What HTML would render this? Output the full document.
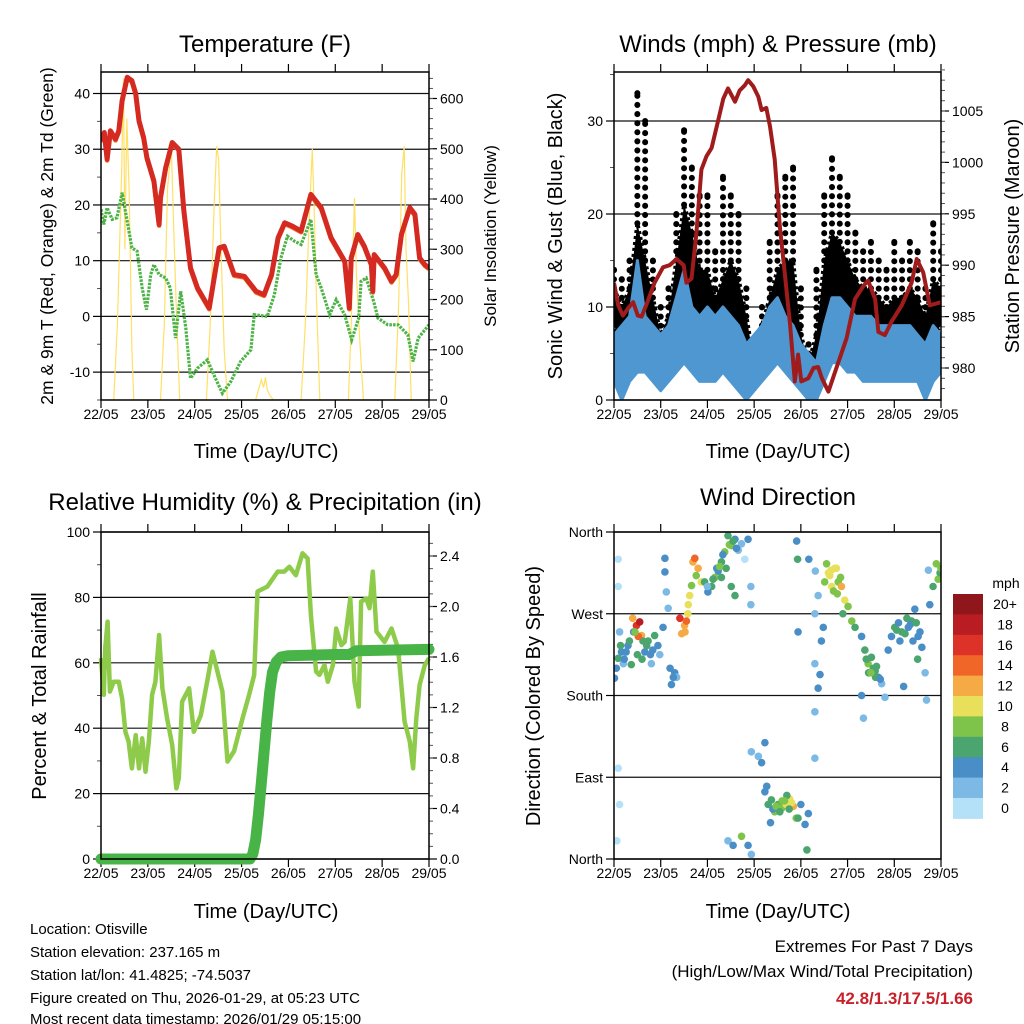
<!DOCTYPE html>
<html><head><meta charset="utf-8"><style>
html,body{margin:0;padding:0;background:#fff}
svg{display:block;font-family:"Liberation Sans",sans-serif}
</style></head><body>
<svg id="c" width="1024" height="1024" viewBox="0 0 1024 1024" xmlns="http://www.w3.org/2000/svg">
<rect width="1024" height="1024" fill="#fff"/>
<g id="p1"></g>
<g id="p2"></g>
<g id="p3"></g>
<g id="p4"></g>
<g id="texts">
<text x="265" y="52" font-size="24" text-anchor="middle">Temperature (F)</text>
<text x="778" y="52" font-size="24" text-anchor="middle">Winds (mph) &amp; Pressure (mb)</text>
<text x="265" y="510" font-size="24" text-anchor="middle">Relative Humidity (%) &amp; Precipitation (in)</text>
<text x="778" y="505" font-size="24" text-anchor="middle">Wind Direction</text>
<text x="266" y="458" font-size="20" text-anchor="middle">Time (Day/UTC)</text>
<text x="778" y="458" font-size="20" text-anchor="middle">Time (Day/UTC)</text>
<text x="266" y="918" font-size="20" text-anchor="middle">Time (Day/UTC)</text>
<text x="778" y="918" font-size="20" text-anchor="middle">Time (Day/UTC)</text>
<text transform="translate(53,236) rotate(-90)" font-size="17.5" text-anchor="middle">2m &amp; 9m T (Red, Orange) &amp; 2m Td (Green)</text>
<text transform="translate(496,236) rotate(-90)" font-size="17" text-anchor="middle">Solar Insolation (Yellow)</text>
<text transform="translate(562,236) rotate(-90)" font-size="20" text-anchor="middle">Sonic Wind &amp; Gust (Blue, Black)</text>
<text transform="translate(1019,236) rotate(-90)" font-size="20" text-anchor="middle">Station Pressure (Maroon)</text>
<text transform="translate(46,696) rotate(-90)" font-size="20" text-anchor="middle">Percent &amp; Total Rainfall</text>
<text transform="translate(540,696) rotate(-90)" font-size="20" text-anchor="middle">Direction (Colored By Speed)</text>
<g font-size="15">
<text x="30" y="934">Location: Otisville</text>
<text x="30" y="957">Station elevation: 237.165 m</text>
<text x="30" y="980">Station lat/lon: 41.4825; -74.5037</text>
<text x="30" y="1003">Figure created on Thu, 2026-01-29, at 05:23 UTC</text>
<text x="30" y="1025" dy="-1">Most recent data timestamp: 2026/01/29 05:15:00</text>
</g>
<text x="973" y="952" font-size="17" text-anchor="end">Extremes For Past 7 Days</text>
<text x="973" y="977" font-size="17" text-anchor="end">(High/Low/Max Wind/Total Precipitation)</text>
<text x="973" y="1004" font-size="17" font-weight="bold" fill="#c8202a" text-anchor="end">42.8/1.3/17.5/1.66</text>
</g>
</svg>
<script>
// ---------- DATA ----------
const dayLabels=["22/05","23/05","24/05","25/05","26/05","27/05","28/05","29/05"];
const tempDays=[0,0.07,0.13,0.2,0.31,0.38,0.45,0.56,0.66,0.74,0.81,0.91,0.98,1.13,1.24,1.27,1.38,1.52,1.66,1.77,1.91,2.06,2.31,2.52,2.63,2.84,3.06,3.31,3.48,3.64,3.78,3.92,4.08,4.27,4.48,4.70,4.91,5.2,5.3,5.34,5.48,5.62,5.77,5.8,5.83,6.05,6.2,6.3,6.41,6.59,6.7,6.8,6.91,7.0];
const tempRed=[31.5,33,28.2,33.3,31.8,33.3,38.7,42.9,42.3,40,35.1,32.1,28.5,24.3,16.5,21.3,26.7,31.2,30,18.9,8.7,5.1,1.5,12.3,12.6,7.5,7.2,4.5,3.9,7.5,14.1,16.8,16.2,15.3,21.9,19.5,14.1,9.9,1.5,10.5,14.7,12.6,9.3,4.5,11.1,8.7,6.3,7.5,14.7,19.5,18.3,10.5,9.3,8.7];
const tdDays=[0,0.06,0.13,0.24,0.34,0.45,0.56,0.66,0.77,0.88,0.97,1.06,1.13,1.24,1.38,1.48,1.59,1.70,1.81,1.91,2.06,2.27,2.41,2.59,2.77,2.98,3.20,3.27,3.55,3.70,3.84,3.98,4.13,4.27,4.48,4.59,4.70,4.88,5.02,5.20,5.35,5.50,5.55,5.66,5.82,5.91,6.12,6.34,6.55,6.66,6.77,7.0];
const tdGreen=[19.2,16.5,19.5,17.4,17.7,22.2,17.1,12.3,11.7,5.1,1.2,7.5,9.3,7.5,6.9,5.1,-3.9,4.5,-2.1,-11.1,-9.3,-7.8,-10.5,-13.8,-11.7,-8.1,-6.0,0.3,0,3.9,10.5,14.4,13.5,12.9,17.4,7.5,5.1,0.3,3.0,0.3,-4.2,-0.3,6.3,6.9,2.7,-0.3,-1.5,-1.5,-3.3,-8.1,-3.9,-1.5];
const solarDays=[0,0.27,0.35,0.44,0.48,0.51,0.55,0.6,0.66,0.7,1.27,1.35,1.42,1.5,1.55,1.6,1.68,2.25,2.33,2.42,2.47,2.51,2.56,2.63,2.7,3.3,3.42,3.47,3.51,3.55,3.6,3.68,4.27,4.36,4.44,4.51,4.55,4.6,4.67,5.28,5.34,5.38,5.41,5.45,5.52,5.6,6.27,6.35,6.42,6.47,6.51,6.56,6.62,7.0];
const solarVals=[0,0,150,450,640,300,560,420,100,0,0,150,420,505,350,200,0,0,150,400,505,480,300,100,0,0,40,25,45,20,10,0,0,150,350,500,380,200,0,0,150,300,402,250,120,0,0,180,450,505,300,200,0,0];

const presDays=[0,0.09,0.19,0.3,0.41,0.51,0.59,0.69,0.87,1.05,1.19,1.34,1.49,1.55,1.66,1.76,1.87,1.98,2.09,2.23,2.34,2.44,2.59,2.69,2.8,2.87,2.98,3.09,3.16,3.26,3.34,3.44,3.55,3.66,3.77,3.87,3.94,4.01,4.16,4.27,4.37,4.45,4.59,4.76,4.98,5.16,5.34,5.44,5.59,5.66,5.8,5.94,6.16,6.37,6.48,6.62,6.76,7.0];
const presVals=[988.3,986.1,985.1,985.8,986.4,985.1,985.0,986.1,988.3,989.8,990.0,990.6,990.0,988.3,988.7,992.9,999.3,1000.6,1001.4,1004.1,1006.2,1007.2,1005.9,1007.0,1007.5,1008.0,1007.4,1006.4,1005.1,1005.3,1003.5,1000.3,993.8,989.0,984.2,978.7,981.3,978.7,979.0,980.0,980.1,979.0,977.7,980.0,982.9,986.7,988.0,988.5,986.7,983.5,983.2,984.5,986.1,988.3,990.6,989.3,986.1,986.4];
// wind per 4-hour step (day = index/6)
const windHi=[7,8,9,15,9,8, 7,8,11,14,10,9, 10,9,10,9,8,6, 7,8,10,11,9,8, 6,5,4,8,11,11, 10,9,9,9,8,8, 8,8,8,7,6,8, 7];
const windLo=[2,0,2,3,3,2, 1,2,3,4,3,2, 2,2,3,2,1,0, 1,2,3,4,3,2, 1,0,0,2,4,4, 3,3,2,2,2,2, 2,2,2,2,0,2, 3];
const gustDense=[12,10,12,19,15,11, 7,9,15,21,18,14, 14,11,13,15,13,9, 4,8,11,14,15,15, 7,4,7,15,18,17, 15,13,12,12,11,10, 11,11,12,11,9,13, 12];
const gustHi=[14,13,15,33,30,15, 10,12,20,29,25,22, 22,16,24,22,20,12, 5,10,17,22,24,25, 12,6,14,22,26,24, 22,18,16,17,15,14, 17,15,17,16,12,19, 16];
const gustLo=[8,6,7,11,9,6, 3,5,7,11,9,7, 8,6,7,8,6,3, 1,4,6,8,9,8, 3,1,2,6,11,10, 9,8,7,7,7,7, 7,7,7,6,4,7, 8];

const rhDays=[0,0.06,0.09,0.14,0.19,0.27,0.38,0.45,0.52,0.59,0.66,0.74,0.81,0.88,0.95,1.02,1.09,1.16,1.24,1.31,1.41,1.52,1.61,1.66,1.73,1.88,1.98,2.13,2.28,2.38,2.59,2.70,2.84,3.02,3.16,3.27,3.34,3.55,3.77,3.91,4.02,4.16,4.30,4.41,4.48,4.59,4.66,4.77,4.84,4.95,5.02,5.13,5.20,5.32,5.41,5.50,5.55,5.66,5.73,5.80,5.88,6.05,6.20,6.34,6.48,6.59,6.66,6.73,6.80,6.91,7.0];
const rhVals=[61.4,50.2,64.4,72.6,51.2,54.2,54.2,49.1,38.9,35.9,27.7,37.9,27.7,36.9,26.7,35.9,50.2,54.2,68.5,52.2,43.0,34.9,21.6,24.7,48.1,52.2,38.9,43.9,55.3,63.4,51.2,29.8,33.0,43.0,50.2,56.3,81.8,83.3,87.9,87.9,89.4,86.8,93.5,91.9,74.6,57.3,56.3,59.3,54.2,59.3,70.5,65.4,66.4,79.7,54.2,46.6,78.7,79.7,76.7,87.9,69.5,66.4,70.5,64.4,42.0,35.9,27.7,43.0,53.2,59.3,61.4];
const precipDays=[0,3.18,3.24,3.30,3.36,3.42,3.48,3.54,3.60,3.66,3.74,3.84,4.0,5.0,5.3,5.45,7.0];
const precipVals=[0,0,0.04,0.15,0.35,0.6,0.85,1.1,1.32,1.48,1.56,1.6,1.61,1.62,1.62,1.65,1.66];

// wind direction scatter: day, degrees, speed (mph)
const dirDays=[0.01,0.09,0.16,0.26,0.37,0.48,0.55,0.59,0.66,0.73,0.87,0.94,1.09,1.09,1.12,1.16,1.23,1.30,1.34,0.09,0.09,0.12,0.09,0.06,0.12,0.2,0.3,0.42,0.5,0.6,0.78,0.8,0.62,
0.05,0.14,0.22,0.33,0.44,0.52,0.7,0.83,0.98,1.05,1.2,1.27,0.4,0.45,
1.41,1.51,1.59,1.66,1.69,1.73,1.80,1.87,1.52,1.58,1.45,1.55,1.62,1.76,
1.94,2.01,2.09,2.16,2.23,2.30,2.37,2.44,2.51,2.59,2.66,2.73,2.87,2.51,2.59,2.3,2.2,2.4,2.0,2.8,2.12,2.26,2.33,2.47,2.55,2.62,
2.94,2.87,2.94,3.09,3.16,3.23,3.23,3.3,3.44,3.51,3.59,3.69,3.76,3.84,3.9,3.94,4.0,4.09,4.13,4.16,2.44,2.55,2.73,3.91,3.93,4.17,3.4,3.35,3.6,3.7,3.8,3.27,3.37,3.47,3.55,3.65,3.75,
4.3,4.3,4.37,4.41,4.44,4.48,4.3,4.3,4.37,4.31,3.94,2.93,2.93,
4.51,4.59,4.66,4.73,4.8,4.87,4.94,5.01,5.09,5.16,4.62,4.7,4.85,4.76,4.55,4.65,4.78,4.9,
5.3,5.37,5.44,5.51,5.59,5.66,5.73,5.8,5.3,5.34,5.87,5.94,6.01,6.09,6.16,6.23,6.3,6.37,6.44,6.51,6.59,6.66,6.69,6.73,6.76,6.83,6.94,6.98,7.0,5.45,5.55,5.6,6.2,6.4,6.5,5.4,5.5,5.62,5.7,6.05,6.12,6.27,6.34,6.47,6.55,6.9];
const dirDegs=[199,221,228,228,214,257,261,246,228,240,246,235,331,316,294,276,192,205,200,330,300,250,100,20,60,215,235,250,225,220,225,215,240,
210,235,220,240,250,245,235,230,225,255,210,200,265,250,
265,257,280,301,327,331,320,305,250,270,248,262,290,312,
305,294,300,310,317,327,338,356,345,352,340,347,352,300,290,310,320,320,300,330,308,322,335,346,350,342,
5,15,118,113,106,128,74,60,52,60,56,60,66,58,45,45,60,38,10,50,20,15,25,350,330,330,55,40,64,70,62,80,65,58,52,64,55,
111,162,188,203,240,255,215,270,290,317,250,280,300,
305,315,300,320,305,300,285,278,262,255,312,295,310,320,325,318,292,270,
245,230,215,222,207,200,193,178,180,155,230,245,255,260,250,248,255,262,275,245,233,205,175,318,280,300,308,315,320,205,210,200,190,240,220,220,205,212,198,252,240,265,258,260,250,325];
const dirSpeeds=[4,6,5,4,6,16,18,12,4,6,6,4,4,4,2,2,4,4,2,1,1,2,1,1,1,2,4,4,6,6,4,2,6,
4,6,4,6,4,14,6,4,3,4,4,4,12,8,
16,12,10,8,12,14,12,10,13,11,12,14,10,8,
6,4,6,8,4,6,8,6,8,4,2,2,4,6,6,7,5,6,2,1,6,8,4,8,6,4,
2,4,2,2,4,4,4,6,8,6,8,10,10,12,8,6,4,4,6,4,2,4,8,4,6,4,4,4,9,7,10,4,6,8,7,9,6,
2,2,4,4,4,4,2,2,2,2,4,2,2,
8,10,10,10,8,12,10,8,8,6,11,9,8,10,9,10,8,6,
4,6,8,6,6,4,2,2,4,2,4,4,6,4,6,6,4,6,4,4,4,2,2,2,4,6,8,6,8,6,6,6,4,4,6,6,8,6,4,6,4,7,4,6,4,8];
const speedBins=["0","2","4","6","8","10","12","14","16","18","20+"];
const speedColors=["#b4e1f7","#7cb9e4","#4a8ec7","#4aa56e","#7ec34a","#e8e05a","#f6aa45","#f06528","#dd3228","#ba1c24","#8f161b"];

// ---------- HELPERS ----------
const NS="http://www.w3.org/2000/svg";
function mk(parent,tag,attrs){const e=document.createElementNS(NS,tag);for(const k in attrs)e.setAttribute(k,attrs[k]);parent.appendChild(e);return e;}
function lin(d0,d1,r0,r1){return v=>r0+(v-d0)*(r1-r0)/(d1-d0);}

function frame(g,x0,x1,y0,y1){
  const xs=lin(0,7,x0,x1);
  dayLabels.forEach((lab,i)=>{
    const x=xs(i);
    const t1=mk(g,'line',{x1:x,x2:x,y1:y1,y2:y1+8,stroke:'#000','stroke-width':1.2});
    
    
    const t2=mk(g,'line',{x1:x,x2:x,y1:y0,y2:y0-8,stroke:'#000','stroke-width':1.2});
    
    
    const tx=mk(g,'text',{x:x,y:y1+19,'font-size':14,'text-anchor':'middle'});
    tx.textContent=lab;
    
    
  });
  return xs;
}
function box(g,x0,x1,y0,y1){
  const r=mk(g,'rect',{x:x0,y:y0,width:x1-x0,height:y1-y0,fill:'none',stroke:'#000','stroke-width':1.5});
  
  
}
function yAxis(g,side,x0,x1,ys,majors,labels,minors,grid){
  const xe=side==='l'?x0:x1, dir=side==='l'?-1:1;
  majors.forEach((v,i)=>{
    const y=ys(v);
    if(grid){const gl=mk(g,'line',{x1:x0,x2:x1,y1:y,y2:y,stroke:'#111','stroke-width':1.2});
      
      }
    const t=mk(g,'line',{x1:xe,x2:xe+dir*8,y1:y,y2:y,stroke:'#000','stroke-width':1.2});
    
    
    const tx=mk(g,'text',{x:xe+dir*11,y:y+5,'font-size':14,'text-anchor':side==='l'?'end':'start'});
    tx.textContent=labels[i];
    
    
  });
  minors.forEach(v=>{const y=ys(v);
    const t=mk(g,'line',{x1:xe,x2:xe+dir*4,y1:y,y2:y,stroke:'#555','stroke-width':1});
    
    });
}
function path(xs,ys,X,Y){return X.map((v,i)=>(i?'L':'M')+xs(v).toFixed(1)+','+ys(Y[i]).toFixed(1)).join('');}
function clip(id,x0,x1,y0,y1){const svg=document.getElementById('c');let d=svg.querySelector('defs')||mk(svg,'defs',{});
  const c=mk(d,'clipPath',{id:id});mk(c,'rect',{x:x0,y:y0,width:x1-x0,height:y1-y0});}
function range(a,b,s){const r=[];for(let v=a;v<=b+1e-9;v+=s)r.push(+v.toFixed(3));return r;}

// ---------- PANEL 1: Temperature ----------
(function(){
  const g=document.getElementById('p1');const X0=101,X1=429,Y0=72,Y1=400;
  const xs=frame(g,X0,X1,Y0,Y1);
  const ys=lin(-15,40,Y1,93.5), ys2=lin(0,600,Y1,98.5);
  yAxis(g,'l',X0,X1,ys,[-10,0,10,20,30,40],["-10","0","10","20","30","40"],[-15,-5,5,15,25,35],true);
  yAxis(g,'r',X0,X1,ys2,[0,100,200,300,400,500,600],["0","100","200","300","400","500","600"],range(20,640,20),false);
  clip('cp1',X0,X1,Y0,Y1);
  const d=mk(g,'g',{'clip-path':'url(#cp1)'});
  const s=mk(d,'path',{d:path(xs,ys2,solarDays,solarVals),fill:'none',stroke:'#ffe066','stroke-width':1.2});
  
  
  const td=mk(d,'path',{d:path(xs,ys,tdDays,tdGreen),fill:'none',stroke:'#4cb346','stroke-width':3.2,'stroke-dasharray':'2.5 1.2'});
  
  
  const o=mk(d,'path',{d:path(xs,v=>ys(v)+1.2,tempDays,tempRed),fill:'none',stroke:'#f07a2a','stroke-width':4.5,'stroke-linejoin':'round'});
  
  
  const r=mk(d,'path',{d:path(xs,ys,tempDays,tempRed),fill:'none',stroke:'#d42a22','stroke-width':5,'stroke-linejoin':'round'});
  
  
  box(g,X0,X1,Y0,Y1);
})();

// ---------- PANEL 2: Winds & Pressure ----------
(function(){
  const g=document.getElementById('p2');const X0=614,X1=941,Y0=72,Y1=400;
  const xs=frame(g,X0,X1,Y0,Y1);
  const ys=lin(0,30,Y1,121), ys2=lin(980,1005,368,111);
  yAxis(g,'l',X0,X1,ys,[0,10,20,30],["0","10","20","30"],[5,15,25,35],true);
  yAxis(g,'r',X0,X1,ys2,[980,985,990,995,1000,1005],["980","985","990","995","1000","1005"],range(978,1009,1),false);
  clip('cp2',X0,X1,Y0,Y1);
  const d=mk(g,'g',{'clip-path':'url(#cp2)'});
  const t=gustDense.map((_,i)=>i/6);
  const gp=path(xs,ys,t,gustDense)+path(xs,ys,t.slice().reverse(),gustLo.slice().reverse()).replace('M','L')+'Z';
  const gb=mk(d,'path',{d:gp,fill:'#000',stroke:'#000','stroke-width':4,'stroke-linejoin':'round','stroke-dasharray':'3 3'});
  
  
  gustHi.forEach((v,i)=>{
    const x=xs(i/6);
    const col=mk(d,'line',{x1:x,x2:x,y1:ys(gustDense[i]),y2:ys(v),stroke:'#000','stroke-width':6,'stroke-linecap':'round','stroke-dasharray':'0.1 9'});
    
    
    const c=mk(d,'circle',{cx:x,cy:ys(v),r:3,fill:'#000'});
    
    });
  const wp=path(xs,ys,t,windHi)+path(xs,ys,t.slice().reverse(),windLo.slice().reverse()).replace('M','L')+'Z';
  const wb=mk(d,'path',{d:wp,fill:'#4f97d1',stroke:'#4f97d1','stroke-width':3,'stroke-linejoin':'round'});
  
  
  const p=mk(d,'path',{d:path(xs,ys2,presDays,presVals),fill:'none',stroke:'#a01c1c','stroke-width':4,'stroke-linejoin':'round'});
  
  
  box(g,X0,X1,Y0,Y1);
})();

// ---------- PANEL 3: RH & Precip ----------
(function(){
  const g=document.getElementById('p3');const X0=101,X1=429,Y0=532,Y1=859;
  const xs=frame(g,X0,X1,Y0,Y1);
  const ys=lin(0,100,Y1,Y0), ys2=lin(0,2.4,Y1,556);
  yAxis(g,'l',X0,X1,ys,[0,20,40,60,80,100],["0","20","40","60","80","100"],[10,30,50,70,90],true);
  yAxis(g,'r',X0,X1,ys2,[0,0.4,0.8,1.2,1.6,2.0,2.4],["0.0","0.4","0.8","1.2","1.6","2.0","2.4"],range(0.1,2.5,0.1),false);
  const rh=mk(g,'path',{d:path(xs,ys,rhDays,rhVals),fill:'none',stroke:'#8fcb4a','stroke-width':4.5,'stroke-linejoin':'round'});
  
  
  const pr=mk(g,'path',{d:path(xs,ys2,precipDays,precipVals),fill:'none',stroke:'#48b447','stroke-width':11,'stroke-linejoin':'round','stroke-linecap':'round'});
  
  
  box(g,X0,X1,Y0,Y1);
})();

// ---------- PANEL 4: Wind direction ----------
(function(){
  const g=document.getElementById('p4');const X0=614,X1=941,Y0=532,Y1=859;
  const xs=frame(g,X0,X1,Y0,Y1);
  const ys=lin(0,360,Y1,Y0);
  yAxis(g,'l',X0,X1,ys,[0,90,180,270,360],["North","East","South","West","North"],[],true);
  clip('cp4',X0,X1,Y0-4,Y1+4);
  const d=mk(g,'g',{'clip-path':'url(#cp4)'});
  dirDays.forEach((t,i)=>{
    const b=Math.min(10,Math.floor(dirSpeeds[i]/2));
    const c=mk(d,'circle',{cx:xs(t),cy:ys(dirDegs[i]),r:3.8,fill:speedColors[b]});
    
    
  });
  box(g,X0,X1,Y0,Y1);
  const cb=mk(g,'g',{});
  
  
  const cy0=594,h=20.4;
  const mt=mk(cb,'text',{x:1006,y:588,'font-size':14,'text-anchor':'middle'});mt.textContent='mph';
  
  
  speedBins.forEach((lab,k)=>{
    const j=10-k;
    const r=mk(cb,'rect',{x:953,y:cy0+k*h,width:30,height:h+0.5,fill:speedColors[j]});
    
    
    const tx=mk(cb,'text',{x:1005,y:cy0+k*h+15,'font-size':14,'text-anchor':'middle'});
    tx.textContent=speedBins[j];
    
    
  });
})();
</script>
</body></html>
